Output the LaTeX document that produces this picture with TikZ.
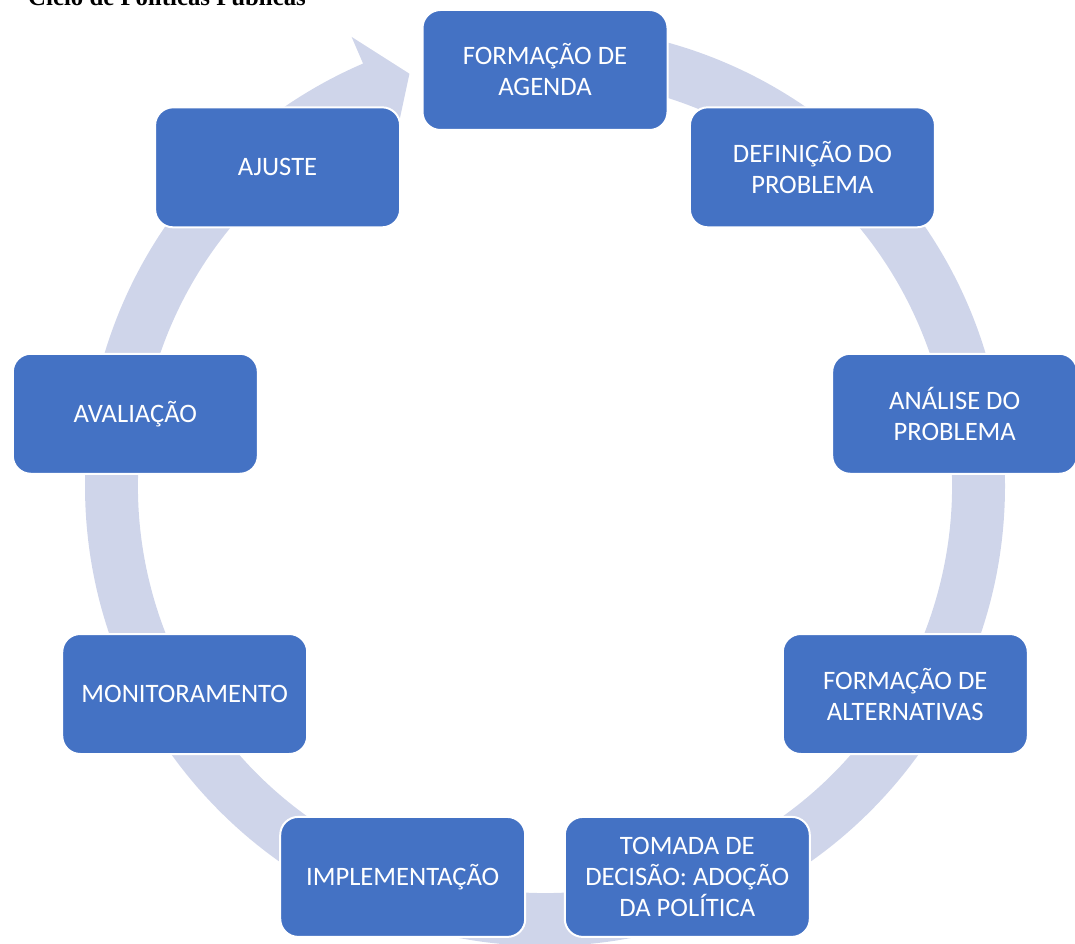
\documentclass[tikz,border=0pt]{standalone}
\usepackage{fontspec}
\newfontfamily\carlito{Carlito}
\newfontfamily\tituloFont{Liberation Serif}
\definecolor{caixa}{HTML}{4472C4}
\definecolor{anel}{HTML}{CFD5EA}
\tikzset{
	etapa/.style={fill=caixa,draw=white,line width=2pt,rounded corners=18pt,
		minimum width=245pt,minimum height=120pt,inner sep=0pt,align=center,
		text=white,font=\carlito\fontsize{26.6}{31}\selectfont},
}
\begin{document}
\begin{tikzpicture}[x=1pt,y=1pt]
	\useasboundingbox (0,0) rectangle (1075,943);
	\node[anchor=base west,inner sep=0pt,font=\tituloFont\bfseries\fontsize{24.8}{28}\selectfont] (titulo) at (28,937) {Ciclo de Políticas Públicas};
	\begin{scope}[shift={(545,457)}]
		\fill[anel] (90:460) arc[start angle=90,end angle=-246.7,radius=460]
			--(-246.7:489)--(-251.8:434)--(-246.7:378)--(-246.7:407)
			arc[start angle=-246.7,end angle=90,radius=407]--cycle;
		\node[etapa] (agenda) at (90:416) {FORMAÇÃO DE\\AGENDA};
		\node[etapa] (definicao) at (50:416) {DEFINIÇÃO DO\\PROBLEMA};
		\node[etapa] (analise) at (10:416) {ANÁLISE DO\\PROBLEMA};
		\node[etapa] (alternativas) at (-30:416) {FORMAÇÃO DE\\ALTERNATIVAS};
		\node[etapa] (decisao) at (-70:416) {TOMADA DE\\DECISÃO: ADOÇÃO\\DA POLÍTICA};
		\node[etapa] (implementacao) at (-110:416) {IMPLEMENTAÇÃO};
		\node[etapa] (monitoramento) at (-150:416) {MONITORAMENTO};
		\node[etapa] (avaliacao) at (170:416) {AVALIAÇÃO};
		\node[etapa] (ajuste) at (130:416) {AJUSTE};
	\end{scope}
\end{tikzpicture}
\end{document}
